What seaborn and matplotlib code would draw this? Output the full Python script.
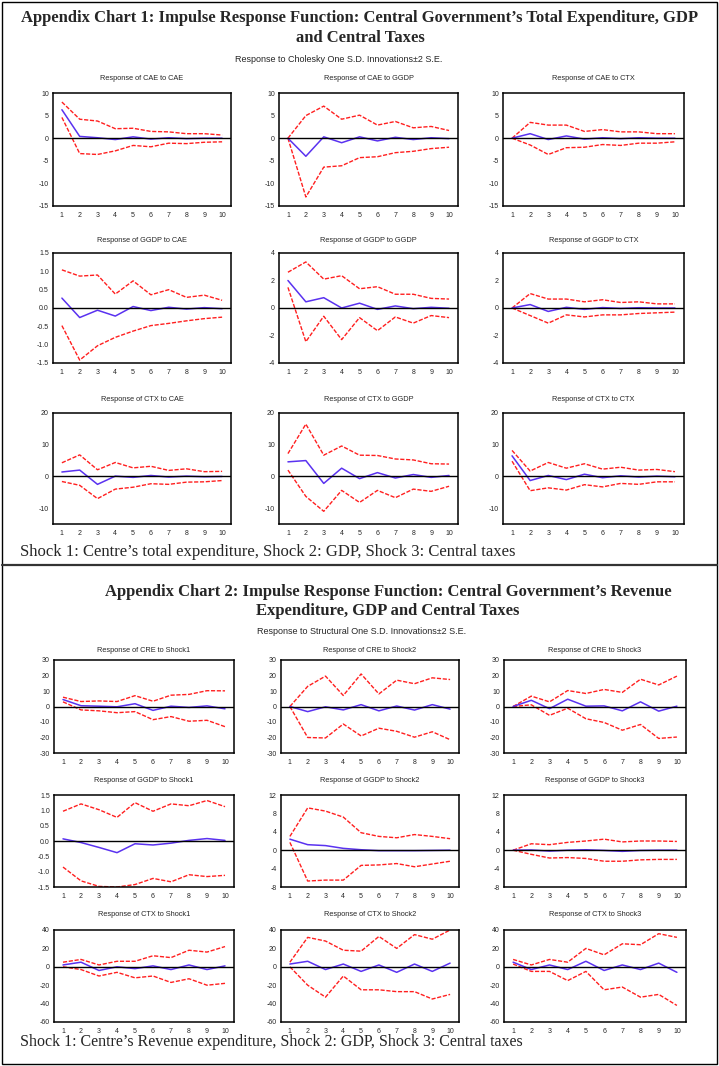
import numpy as np
import matplotlib
matplotlib.use('Agg')
import matplotlib.pyplot as plt
import seaborn as sns
from matplotlib.patches import Rectangle
from matplotlib.lines import Line2D

sns.set_style('white')
plt.rcParams['font.family'] = ['Liberation Sans', 'DejaVu Sans']
plt.rcParams['axes.unicode_minus'] = False

steps = list(range(1, 11))

# ---- Chart 1: Cholesky responses (mid, upper band, lower band) ----
cae_cae_mid = [6.3, 0.4, 0.1, -0.3, 0.3, -0.2, 0.1, -0.1, 0.0, 0.0]
cae_cae_up = [8.0, 4.2, 3.8, 2.1, 2.2, 1.5, 1.4, 1.0, 1.0, 0.7]
cae_cae_lo = [4.6, -3.4, -3.6, -2.8, -1.6, -1.9, -1.1, -1.2, -0.9, -0.8]

cae_ggdp_mid = [0.0, -4.0, 0.3, -1.0, 0.3, -0.6, 0.2, -0.3, 0.1, -0.1]
cae_ggdp_up = [0.0, 5.0, 7.1, 4.2, 5.1, 2.9, 3.7, 2.3, 2.6, 1.7]
cae_ggdp_lo = [0.0, -13.0, -6.4, -6.1, -4.3, -4.1, -3.2, -2.9, -2.3, -2.0]

cae_ctx_mid = [0.0, 1.0, -0.3, 0.5, -0.2, 0.1, -0.1, 0.1, 0.0, 0.0]
cae_ctx_up = [0.0, 3.5, 2.9, 2.9, 1.5, 1.9, 1.4, 1.4, 1.0, 1.0]
cae_ctx_lo = [0.0, -1.5, -3.6, -2.1, -2.0, -1.4, -1.6, -1.1, -1.1, -0.8]

ggdp_cae_mid = [0.27, -0.26, -0.06, -0.22, 0.04, -0.07, 0.02, -0.03, 0.01, -0.02]
ggdp_cae_up = [1.04, 0.87, 0.90, 0.38, 0.74, 0.36, 0.50, 0.29, 0.35, 0.21]
ggdp_cae_lo = [-0.48, -1.42, -1.03, -0.80, -0.63, -0.48, -0.42, -0.35, -0.29, -0.25]

ggdp_ggdp_mid = [2.0, 0.45, 0.75, 0.0, 0.35, -0.1, 0.15, -0.05, 0.05, -0.02]
ggdp_ggdp_up = [2.6, 3.35, 2.1, 2.35, 1.4, 1.55, 1.0, 1.0, 0.7, 0.65]
ggdp_ggdp_lo = [1.5, -2.45, -0.6, -2.3, -0.7, -1.65, -0.65, -1.1, -0.55, -0.7]

ggdp_ctx_mid = [0.0, 0.25, -0.25, 0.05, -0.1, 0.03, -0.03, 0.02, 0.0, 0.0]
ggdp_ctx_up = [0.0, 1.05, 0.65, 0.65, 0.45, 0.6, 0.4, 0.45, 0.3, 0.3]
ggdp_ctx_lo = [0.0, -0.55, -1.1, -0.5, -0.65, -0.5, -0.5, -0.4, -0.35, -0.3]

ctx_cae_mid = [1.4, 2.0, -2.5, 0.1, -0.3, 0.3, -0.2, 0.1, -0.1, 0.0]
ctx_cae_up = [4.3, 6.8, 2.1, 4.4, 2.7, 3.2, 1.9, 2.4, 1.5, 1.6]
ctx_cae_lo = [-1.6, -2.8, -7.0, -4.0, -3.4, -2.3, -2.5, -1.8, -1.7, -1.3]

ctx_ggdp_mid = [4.6, 5.0, -2.2, 2.6, -0.7, 1.2, -0.5, 0.6, -0.3, 0.3]
ctx_ggdp_up = [7.2, 16.5, 6.7, 9.6, 6.7, 6.6, 5.5, 5.2, 4.0, 3.9]
ctx_ggdp_lo = [2.0, -6.3, -11.0, -4.4, -8.2, -4.4, -6.7, -4.0, -4.7, -3.1]

ctx_ctx_mid = [6.5, -1.3, 0.3, -1.0, 0.7, -0.4, 0.2, -0.2, 0.1, -0.1]
ctx_ctx_up = [8.2, 1.7, 4.4, 2.6, 4.0, 2.3, 2.9, 2.0, 2.2, 1.5]
ctx_ctx_lo = [4.8, -4.5, -3.6, -4.3, -2.6, -3.3, -2.2, -2.5, -1.7, -1.7]

# ---- Chart 2: structural responses ----
cre_s1_mid = [4.5, 0.5, 0.2, -0.2, 1.8, -2.5, 0.2, -0.6, 0.4, -1.5]
cre_s1_up = [6.0, 3.2, 3.6, 3.2, 7.0, 3.4, 7.3, 7.8, 10.2, 10.1]
cre_s1_lo = [3.0, -2.2, -2.8, -4.0, -3.3, -8.5, -6.5, -9.5, -8.9, -13.0]

cre_s2_mid = [0.0, -3.3, -0.2, -2.2, 1.2, -2.8, 0.3, -2.3, 1.2, -1.7]
cre_s2_up = [0.0, 13.0, 19.6, 7.1, 21.0, 8.1, 17.0, 14.7, 18.5, 17.4]
cre_s2_lo = [0.0, -20.0, -20.3, -11.3, -19.0, -14.0, -16.0, -19.8, -16.3, -21.4]

cre_s3_mid = [0.0, 4.0, -1.4, 4.7, 0.2, 0.4, -2.8, 3.0, -3.0, 0.2]
cre_s3_up = [0.0, 6.7, 3.0, 10.3, 8.4, 11.0, 9.1, 17.6, 13.9, 19.6]
cre_s3_lo = [0.0, 1.1, -5.7, -1.1, -7.9, -10.3, -15.3, -11.6, -20.6, -19.7]

gdp_s1_mid = [0.07, -0.05, -0.21, -0.38, -0.09, -0.13, -0.07, 0.02, 0.08, 0.02]
gdp_s1_up = [0.97, 1.21, 1.02, 0.77, 1.25, 0.97, 1.21, 1.15, 1.32, 1.12]
gdp_s1_lo = [-0.85, -1.30, -1.48, -1.50, -1.42, -1.22, -1.33, -1.10, -1.16, -1.12]

gdp_s2_mid = [2.4, 1.2, 1.0, 0.4, 0.1, -0.1, -0.1, -0.1, -0.05, 0.0]
gdp_s2_up = [3.0, 9.2, 8.5, 7.2, 3.8, 3.0, 2.7, 3.4, 3.0, 2.5]
gdp_s2_lo = [1.7, -6.7, -6.5, -6.5, -3.3, -3.2, -2.9, -3.6, -3.0, -2.4]

gdp_s3_mid = [0.0, 0.05, -0.2, 0.0, 0.1, -0.05, -0.25, -0.05, 0.0, 0.0]
gdp_s3_up = [0.0, 1.4, 1.2, 1.7, 2.0, 2.4, 1.8, 2.0, 2.0, 1.9]
gdp_s3_lo = [0.0, -0.9, -1.7, -1.6, -1.8, -2.4, -2.4, -2.1, -2.0, -2.0]

ctx_s1_mid = [2.0, 5.0, -4.0, 0.0, -2.0, 1.0, -3.0, 2.0, -3.0, 1.0]
ctx_s1_up = [5.0, 8.0, 2.0, 6.0, 6.0, 12.0, 10.0, 18.0, 16.0, 22.0]
ctx_s1_lo = [0.0, -3.0, -10.0, -6.0, -12.0, -10.0, -17.0, -13.0, -20.0, -18.0]

ctx_s2_mid = [3.0, 6.0, -3.0, 3.0, -5.0, 2.0, -6.0, 3.0, -5.0, 4.0]
ctx_s2_up = [5.0, 32.0, 28.0, 18.0, 17.0, 33.0, 20.0, 35.0, 30.0, 40.0]
ctx_s2_lo = [0.0, -20.0, -33.0, -10.0, -25.0, -25.0, -27.0, -27.0, -35.0, -30.0]

ctx_s3_mid = [5.0, -3.0, 2.0, -3.0, 6.0, -4.0, 2.0, -3.0, 4.0, -6.0]
ctx_s3_up = [8.0, 2.0, 8.0, 5.0, 20.0, 13.0, 25.0, 24.0, 36.0, 32.0]
ctx_s3_lo = [3.0, -5.0, -5.0, -15.0, -5.0, -25.0, -22.0, -33.0, -30.0, -42.0]

W, H = 719, 1066
fig = plt.figure(figsize=(W / 100, H / 100), dpi=100)
fig.patch.set_facecolor('white')

blue = '#5a32f0'
red = '#ff1f1f'


def add_ax(x0, y0, x1, y1):
    return fig.add_axes([x0 / W, 1 - y1 / H, (x1 - x0) / W, (y1 - y0) / H])


def irf(box, title, ty, mid, up, lo, ylim, yticks, fmt):
    ax = add_ax(*box)
    sns.lineplot(x=steps, y=up, ax=ax, color=red, lw=1.0, ls=(0, (3, 1.2)))
    sns.lineplot(x=steps, y=lo, ax=ax, color=red, lw=1.0, ls=(0, (3, 1.2)))
    sns.lineplot(x=steps, y=mid, ax=ax, color=blue, lw=1.1)
    ax.axhline(0, color='black', lw=1.0)
    ax.set_xlim(0.5, 10.5)
    ax.set_ylim(*ylim)
    ax.set_xticks(steps)
    ax.set_xticks(np.arange(0.5, 11, 1), minor=True)
    ax.tick_params(axis='x', which='major', length=0, labelsize=5, pad=4)
    ax.tick_params(axis='x', which='minor', length=3, direction='out', width=0.8)
    ax.set_yticks(yticks)
    ax.set_yticklabels([fmt.format(v) for v in yticks])
    ax.tick_params(axis='y', length=2, direction='out', labelsize=5, pad=1, width=0.8)
    for s in ax.spines.values():
        s.set_visible(True)
        s.set_color('black')
        s.set_linewidth(1.1)
    ax.set_xlabel('')
    ax.set_ylabel('')
    cx = (box[0] + box[2]) / 2
    fig.text(cx / W, 1 - ty / H, title, fontsize=5.3, ha='center', va='center')
    return ax


def ftext(x, y, s, **kw):
    fig.text(x / W, 1 - y / H, s, **kw)


# frame and divider
fig.add_artist(Rectangle((2 / W, 2 / H), 715 / W, 1062 / H, transform=fig.transFigure,
                         fill=False, edgecolor='black', lw=1.0))
fig.add_artist(Line2D([2 / W, 717 / W], [1 - 565 / H, 1 - 565 / H], transform=fig.transFigure,
                      color='#333333', lw=1.6))

# ---- Chart 1 ----
serif = ['Liberation Serif', 'DejaVu Serif']
ftext(360, 18, "Appendix Chart 1: Impulse Response Function: Central Government\u2019s Total Expenditure, GDP",
      fontsize=12.0, fontweight='bold', family=serif, ha='center', va='center')
ftext(360, 38, "and Central Taxes", fontsize=12.0, fontweight='bold', family=serif, ha='center', va='center')
ftext(339, 60, "Response to Cholesky One S.D. Innovations\u00b12 S.E.", fontsize=6.5, ha='center', va='center')

cols1 = [(53, 231), (279, 458), (503, 684)]
rows1 = [(93, 206, 79), (253, 363, 240), (413, 524, 400)]

t5 = [-15, -10, -5, 0, 5, 10]
t15 = [-1.5, -1.0, -0.5, 0.0, 0.5, 1.0, 1.5]
t4 = [-4, -2, 0, 2, 4]
t20 = [-10, 0, 10, 20]

chart1 = [
    [("Response of CAE to CAE", cae_cae_mid, cae_cae_up, cae_cae_lo, (-15, 10), t5, '{:.0f}'),
     ("Response of CAE to GGDP", cae_ggdp_mid, cae_ggdp_up, cae_ggdp_lo, (-15, 10), t5, '{:.0f}'),
     ("Response of CAE to CTX", cae_ctx_mid, cae_ctx_up, cae_ctx_lo, (-15, 10), t5, '{:.0f}')],
    [("Response of GGDP to CAE", ggdp_cae_mid, ggdp_cae_up, ggdp_cae_lo, (-1.5, 1.5), t15, '{:.1f}'),
     ("Response of GGDP to GGDP", ggdp_ggdp_mid, ggdp_ggdp_up, ggdp_ggdp_lo, (-4, 4), t4, '{:.0f}'),
     ("Response of GGDP to CTX", ggdp_ctx_mid, ggdp_ctx_up, ggdp_ctx_lo, (-4, 4), t4, '{:.0f}')],
    [("Response of CTX to CAE", ctx_cae_mid, ctx_cae_up, ctx_cae_lo, (-15, 20), t20, '{:.0f}'),
     ("Response of CTX to GGDP", ctx_ggdp_mid, ctx_ggdp_up, ctx_ggdp_lo, (-15, 20), t20, '{:.0f}'),
     ("Response of CTX to CTX", ctx_ctx_mid, ctx_ctx_up, ctx_ctx_lo, (-15, 20), t20, '{:.0f}')],
]
for (y0, y1, ty), row in zip(rows1, chart1):
    for (x0, x1), p in zip(cols1, row):
        irf((x0, y0, x1, y1), p[0], ty, *p[1:])

ftext(20, 552, "Shock 1: Centre\u2019s total expenditure, Shock 2: GDP, Shock 3: Central taxes",
      fontsize=12.0, family=serif, ha='left', va='center')

# ---- Chart 2 ----
ftext(388, 592, "Appendix Chart 2: Impulse Response Function: Central Government\u2019s Revenue",
      fontsize=12.0, fontweight='bold', family=serif, ha='center', va='center')
ftext(388, 611, "Expenditure, GDP and Central Taxes", fontsize=12.0, fontweight='bold', family=serif,
      ha='center', va='center')
ftext(362, 632, "Response to Structural One S.D. Innovations\u00b12 S.E.", fontsize=6.5, ha='center', va='center')

cols2 = [(54, 234), (281, 459), (504, 686)]
rows2 = [(660, 753, 650), (795, 887, 780), (930, 1022, 915)]

t30 = [-30, -20, -10, 0, 10, 20, 30]
t12 = [-8, -4, 0, 4, 8, 12]
t40 = [-60, -40, -20, 0, 20, 40]

chart2 = [
    [("Response of CRE to Shock1", cre_s1_mid, cre_s1_up, cre_s1_lo, (-30, 30), t30, '{:.0f}'),
     ("Response of CRE to Shock2", cre_s2_mid, cre_s2_up, cre_s2_lo, (-30, 30), t30, '{:.0f}'),
     ("Response of CRE to Shock3", cre_s3_mid, cre_s3_up, cre_s3_lo, (-30, 30), t30, '{:.0f}')],
    [("Response of GGDP to Shock1", gdp_s1_mid, gdp_s1_up, gdp_s1_lo, (-1.5, 1.5), t15, '{:.1f}'),
     ("Response of GGDP to Shock2", gdp_s2_mid, gdp_s2_up, gdp_s2_lo, (-8, 12), t12, '{:.0f}'),
     ("Response of GGDP to Shock3", gdp_s3_mid, gdp_s3_up, gdp_s3_lo, (-8, 12), t12, '{:.0f}')],
    [("Response of CTX to Shock1", ctx_s1_mid, ctx_s1_up, ctx_s1_lo, (-60, 40), t40, '{:.0f}'),
     ("Response of CTX to Shock2", ctx_s2_mid, ctx_s2_up, ctx_s2_lo, (-60, 40), t40, '{:.0f}'),
     ("Response of CTX to Shock3", ctx_s3_mid, ctx_s3_up, ctx_s3_lo, (-60, 40), t40, '{:.0f}')],
]
for (y0, y1, ty), row in zip(rows2, chart2):
    for (x0, x1), p in zip(cols2, row):
        irf((x0, y0, x1, y1), p[0], ty, *p[1:])

ftext(20, 1042, "Shock 1: Centre\u2019s Revenue expenditure, Shock 2: GDP, Shock 3: Central taxes",
      fontsize=11.5, family=serif, ha='left', va='center')

fig.savefig('out.png', dpi=100)
